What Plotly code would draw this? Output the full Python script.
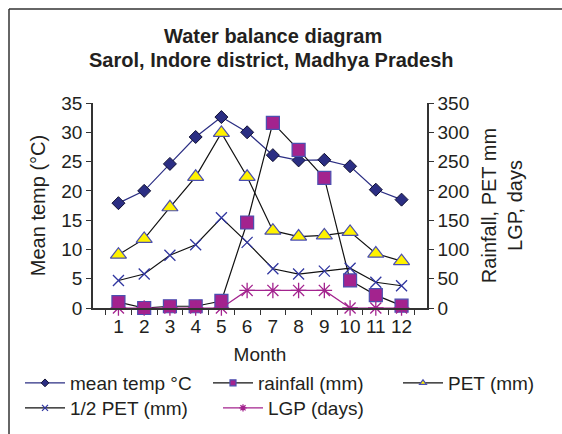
import plotly.graph_objects as go

months = ["1", "2", "3", "4", "5", "6", "7", "8", "9", "10", "11", "12"]
mean_temp = [17.9, 20.0, 24.6, 29.2, 32.6, 30.0, 26.1, 25.2, 25.3, 24.2, 20.2, 18.5]
rainfall = [10, 0, 3, 3, 12, 146, 316, 270, 222, 47, 22, 4]
pet = [91, 118, 172, 224, 299, 224, 132, 122, 124, 130, 93, 80]
half_pet = [47, 58, 90, 108, 154, 112, 67, 58, 63, 68, 44, 38]
lgp = [0, 0, 0, 0, 0, 30, 30, 30, 30, 0, 0, 0]

FONT = "Liberation Sans, Arial, sans-serif"
TXT = "#231f20"
NAVY = "#2B2E83"
MAG = "#A3238E"
YEL = "#FFF200"
OUTL = "#4B4FB0"

W, H = 562, 434
L, R, T, B = 93, 427, 103, 308


def px(x):
    return (x - L) / (R - L)


def py(y):
    return (B - y) / (B - T)


fig = go.Figure()

series = [
    dict(name="mean temp °C", y=mean_temp, axis="y", line=dict(color=NAVY, width=1.2),
         marker=dict(symbol="diamond", size=10, color=NAVY, line=dict(color="#111133", width=1))),
    dict(name="rainfall (mm)", y=rainfall, axis="y2", line=dict(color="#111111", width=1.2),
         marker=dict(symbol="square", size=13, color=MAG, line=dict(color=OUTL, width=1.2))),
    dict(name="PET (mm)", y=pet, axis="y2", line=dict(color="#111111", width=1.2),
         marker=dict(symbol="triangle-up", size=14, color=YEL, line=dict(color=OUTL, width=1.2))),
    dict(name="1/2 PET (mm)", y=half_pet, axis="y2", line=dict(color="#111111", width=1.2),
         marker=dict(symbol="x-thin", size=11, color=NAVY, line=dict(color="#3036A0", width=1.3))),
    dict(name="LGP (days)", y=lgp, axis="y2", line=dict(color=MAG, width=1.2),
         marker=dict(symbol="asterisk", size=13, color=MAG, line=dict(color=MAG, width=1.3))),
]

for s in series:
    fig.add_trace(go.Scatter(x=months, y=s["y"], yaxis=s["axis"], mode="lines+markers",
                             line=s["line"], marker=s["marker"], showlegend=False,
                             cliponaxis=False, name=s["name"]))

# legend entries (small markers), one legend box per entry, placed like the reference
legend_ids = ["legend", "legend2", "legend3", "legend4", "legend5"]
legend_pos = [(20, 383), (208, 383), (398, 383), (20, 408), (218, 408)]
for s, lid in zip(series, legend_ids):
    m = s["marker"]
    fig.add_trace(go.Scatter(x=[None], y=[None], mode="lines+markers", name=s["name"],
                             line=s["line"],
                             marker=dict(symbol=m["symbol"], color=m["color"], line=m["line"], size=6),
                             yaxis=s["axis"], showlegend=True, legend=lid))

axis_common = dict(showgrid=False, zeroline=False, showline=True, linecolor="#333333",
                   linewidth=1.5, ticks="outside", ticklen=5, tickcolor="#333333",
                   tickfont=dict(family=FONT, size=19, color=TXT))

layout_legends = {}
for lid, (lx, ly) in zip(legend_ids, legend_pos):
    layout_legends[lid] = dict(x=px(lx), xanchor="left", y=py(ly), yanchor="middle",
                               orientation="h", itemwidth=40,
                               font=dict(family=FONT, size=19, color=TXT),
                               bgcolor="rgba(0,0,0,0)", borderwidth=0)

fig.update_layout(
    width=W, height=H,
    margin=dict(l=L, r=W - R, t=T, b=H - B, autoexpand=False),
    paper_bgcolor="white", plot_bgcolor="white",
    font=dict(family=FONT, size=19, color=TXT),
    xaxis=dict(**axis_common, type="category", tickson="boundaries", tickangle=0, automargin=False,
               title=dict(text="Month", font=dict(family=FONT, size=19, color=TXT), standoff=12)),
    yaxis=dict(**axis_common, range=[0, 35], dtick=5, automargin=False,
               title=dict(text="Mean temp (°C)", font=dict(family=FONT, size=20, color=TXT), standoff=10)),
    yaxis2=dict(**axis_common, range=[0, 350], dtick=50, overlaying="y", side="right", automargin=False,
                title=dict(text="Rainfall, PET mm<br>LGP, days", font=dict(family=FONT, size=20, color=TXT),
                           standoff=14)),
    # inner half of the crossing tick marks on the right axis
    yaxis3=dict(range=[0, 350], dtick=50, overlaying="y", side="right", showgrid=False, zeroline=False,
                showline=False, ticks="inside", ticklen=4, tickcolor="#333333", showticklabels=False,
                automargin=False),
    showlegend=True,
    **layout_legends,
)

fig.add_annotation(text="<b>Water balance diagram</b>", xref="paper", yref="paper",
                   x=px(273), y=py(36), xanchor="center", yanchor="middle", showarrow=False,
                   font=dict(family=FONT, size=20, color=TXT))
fig.add_annotation(text="<b>Sarol, Indore district, Madhya Pradesh</b>", xref="paper", yref="paper",
                   x=px(271), y=py(60), xanchor="center", yanchor="middle", showarrow=False,
                   font=dict(family=FONT, size=20, color=TXT))

# outer frame (top and left edges visible)
fig.add_shape(type="line", xref="paper", yref="paper", x0=px(9), y0=py(9), x1=px(600), y1=py(9),
              line=dict(color="#333333", width=1.5))
fig.add_shape(type="line", xref="paper", yref="paper", x0=px(9), y0=py(9), x1=px(9), y1=py(500),
              line=dict(color="#333333", width=1.5))

fig.write_html("out.html")
